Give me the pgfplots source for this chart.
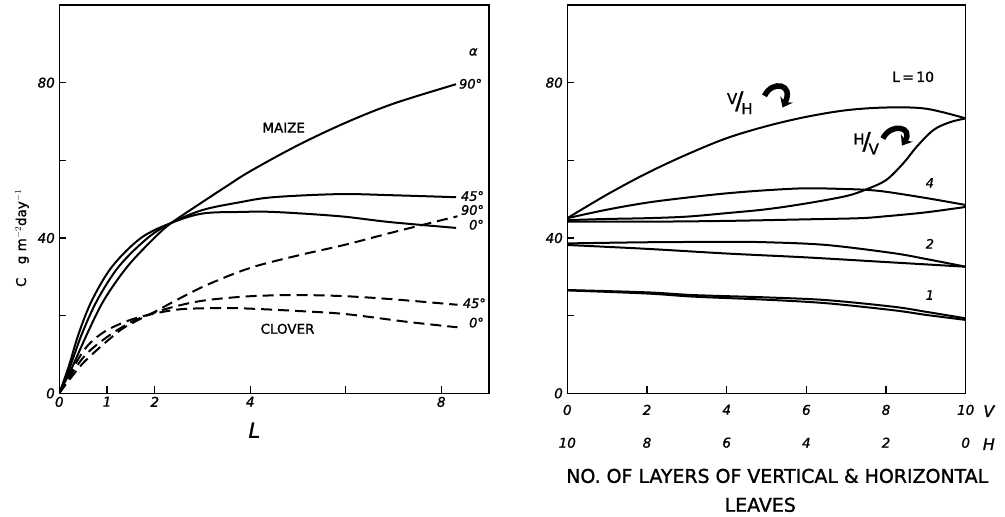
\documentclass[border=0pt]{standalone}
\usepackage{fontspec}
\setmainfont{DejaVu Sans}[RawFeature={embolden=1.3}]
\usepackage{pgfplots}
\pgfplotsset{compat=1.18}
\usetikzlibrary{arrows.meta}
\tikzset{lab/.style={font=\fontsize{13}{13}\selectfont\itshape, inner sep=0pt}}
\pgfplotsset{
  myax/.style={
    scale only axis, anchor=south west,
    ymin=0, ymax=100,
    axis line style={line width=1.5bp},
    every tick/.style={line width=1.3bp, black},
    major tick length=7bp, tick align=inside,
    xtick pos=bottom, ytick pos=left,
    tick label style={font=\fontsize{13.5}{13.5}\selectfont\itshape},
    /pgf/number format/assume math mode=true,
    ytick={0,20,40,60,80}, yticklabels={0,,40,,80},
    yticklabel style={xshift=-1bp},
    clip mode=individual,
  },
  sol/.style={black, line width=2bp, smooth, tension=0.55},
  dsh/.style={black, line width=2bp, smooth, tension=0.55, dash pattern=on 11bp off 6bp},
}
\begin{document}
\begin{tikzpicture}
\useasboundingbox (0bp,0bp) rectangle (1005bp,-517bp);
% ---------------- left panel ----------------
\begin{axis}[myax, at={(59.3bp,-393.3bp)}, width=429.7bp, height=388.3bp,
  xmin=0, xmax=9,
  xtick={0,1,2,4,6,8}, xticklabels={0,1,2,4,,8},
  xlabel={L},
  xlabel style={font=\fontsize{21}{21}\selectfont\itshape, at={(axis description cs:0.454,-0.095)}, anchor=center},
  ylabel={C\quad g m$^{-2}$day$^{-1}$},
  ylabel style={font=\fontsize{13.5}{13.5}\selectfont, at={(axis description cs:-0.087,0.40)}, anchor=center},
]
% maize
\addplot[sol] coordinates {(0,0) (0.2,7) (0.41,15.5) (0.69,24.1) (1.11,32.7) (1.71,40) (2.35,43.9) (3,46.3) (3.78,46.7) (4.5,46.7) (5.87,45.6) (6.92,44.1) (8.31,42.6)};
\addplot[sol] coordinates {(0,0) (0.23,7) (0.48,15.5) (0.80,24.1) (1.25,32.7) (1.85,40) (2.35,43.9) (3,47.2) (3.78,49.2) (4.48,50.5) (5.87,51.3) (7,51.0) (8.31,50.5)};
\addplot[sol] coordinates {(0,0) (0.28,7) (0.59,15.5) (0.94,24.1) (1.43,32.7) (1.99,40) (2.35,43.9) (3.09,50.0) (3.5,53.3) (4,57.2) (5,63.9) (6,69.7) (7,74.6) (8.31,79.6)};
% clover
\addplot[dsh] coordinates {(0,0) (0.5,10.8) (0.9,15.5) (1.4,18.5) (1.9,20.3) (2.5,21.6) (3.09,21.9) (3.78,21.9) (5,21.2) (6,20.4) (7.29,18.4) (8.34,17.0)};
\addplot[dsh] coordinates {(0,0) (0.5,9.2) (1,14.5) (1.5,18.3) (2,20.8) (2.5,22.6) (3.09,24.0) (4,25.0) (5,25.3) (6,25) (7,24.2) (8.34,22.8)};
\addplot[dsh] coordinates {(0,0) (0.5,7.8) (1.2,15.5) (1.5,17.9) (2,21) (2.5,24.3) (3.09,27.9) (4,32.3) (5,35.5) (6,38.3) (7,41.5) (8.34,45.6)};
\node[font=\fontsize{13.5}{13.5}\selectfont] at (axis cs:4.70,68.4) {MAIZE};
\node[font=\fontsize{13.5}{13.5}\selectfont] at (axis cs:4.78,16.6) {CLOVER};
\node[lab] at (axis cs:8.67,87.9) {α};
\node[lab, anchor=west] at (axis cs:8.37,79.7) {90°};
\node[lab, anchor=west] at (axis cs:8.41,50.8) {45°};
\node[lab, anchor=west] at (axis cs:8.41,47.2) {90°};
\node[lab, anchor=west] at (axis cs:8.58,43.4) {0°};
\node[lab, anchor=west] at (axis cs:8.45,23.2) {45°};
\node[lab, anchor=west] at (axis cs:8.58,18.2) {0°};
\end{axis}
% ---------------- right panel ----------------
\begin{axis}[myax, at={(567.3bp,-393.3bp)}, width=398.4bp, height=388.3bp,
  xmin=0, xmax=10,
  xtick={0,2,4,6,8,10},
  xticklabels={{0\\10},{2\\8},{4\\6},{6\\4},{8\\2},{10\\0}},
  xticklabel style={align=center, font=\fontsize{13.5}{33}\selectfont\itshape, yshift=-8bp},
  xlabel={NO. OF LAYERS OF VERTICAL \& HORIZONTAL\\LEAVES\hspace*{34bp}},
  xlabel style={align=center, font=\fontsize{19}{29}\selectfont, at={(axis description cs:0.527,-0.25)}, anchor=center},
]
\addplot[sol] coordinates {(0,45.1) (1,51.2) (2,56.7) (3,61.5) (4,65.7) (5,68.8) (6,71.2) (7,72.9) (8,73.6) (9,73.3) (10,70.8)};
\addplot[sol] coordinates {(0,44.6) (1,44.9) (2,45.1) (3,45.5) (4,46.4) (5,47.4) (6,48.9) (7,50.8) (7.5,52.5) (8,54.9) (8.43,59.2) (8.77,63.5) (9.19,67.8) (9.6,69.8) (10,70.8)};
\addplot[sol] coordinates {(0,45.1) (1,47.3) (2,49.1) (3,50.4) (4,51.5) (5,52.3) (6,52.8) (7,52.6) (7.5,52.4) (8,51.9) (9,50.3) (10,48.5)};
\addplot[sol] coordinates {(0,44.2) (2,44.2) (4,44.4) (6,44.8) (7.35,45.1) (8,45.6) (9,46.6) (10,48.0)};
\addplot[sol] coordinates {(0,38.6) (2,38.9) (4,39.0) (5,38.9) (6.5,38.2) (8.18,36.1) (9,34.6) (10,32.6)};
\addplot[sol] coordinates {(0,38.2) (2,37.2) (4,36.0) (6,35.0) (8,33.8) (10,32.6)};
\addplot[sol] coordinates {(0,26.6) (2,26.0) (3.16,25.3) (5,24.7) (6.5,24.0) (8.18,22.3) (9,21) (10,19.3)};
\addplot[sol] coordinates {(0,26.5) (2,25.7) (3.16,24.9) (5,24.1) (6.5,23.2) (8.18,21.4) (9,20.2) (10,18.9)};
\node[font=\fontsize{14}{14}\selectfont] at (axis cs:8.68,81.5) {L\,=\,10};
\node[lab] at (axis cs:9.1,54.2) {4};
\node[lab] at (axis cs:9.1,38.5) {2};
\node[lab] at (axis cs:9.1,25.3) {1};
\node[font=\fontsize{15}{15}\selectfont, inner sep=0pt] at (axis cs:4.33,74.8) {\raisebox{5bp}{V}\kern-2bp{\fontsize{24}{24}\selectfont/}\kern-2bp\raisebox{-5bp}{H}};
\node[font=\fontsize{15}{15}\selectfont, inner sep=0pt] at (axis cs:7.5,64.4) {\raisebox{5bp}{H}\kern-2bp{\fontsize{24}{24}\selectfont/}\kern-2bp\raisebox{-5bp}{V}};
\draw[line width=5.5bp, -{Stealth[length=9bp,width=14bp]}] (axis cs:4.95,76.6) .. controls (axis cs:5.15,80.8) and (axis cs:5.7,79.6) .. (axis cs:5.40,73.6);
\draw[line width=5.5bp, -{Stealth[length=9bp,width=14bp]}] (axis cs:7.92,65.6) .. controls (axis cs:8.12,69.8) and (axis cs:8.7,68.6) .. (axis cs:8.40,63.8);
\node[font=\fontsize{16}{16}\selectfont\itshape] at (axis description cs:1.058,-0.046) {V};
\node[font=\fontsize{16}{16}\selectfont\itshape] at (axis description cs:1.058,-0.131) {H};
\end{axis}
\end{tikzpicture}
\end{document}
